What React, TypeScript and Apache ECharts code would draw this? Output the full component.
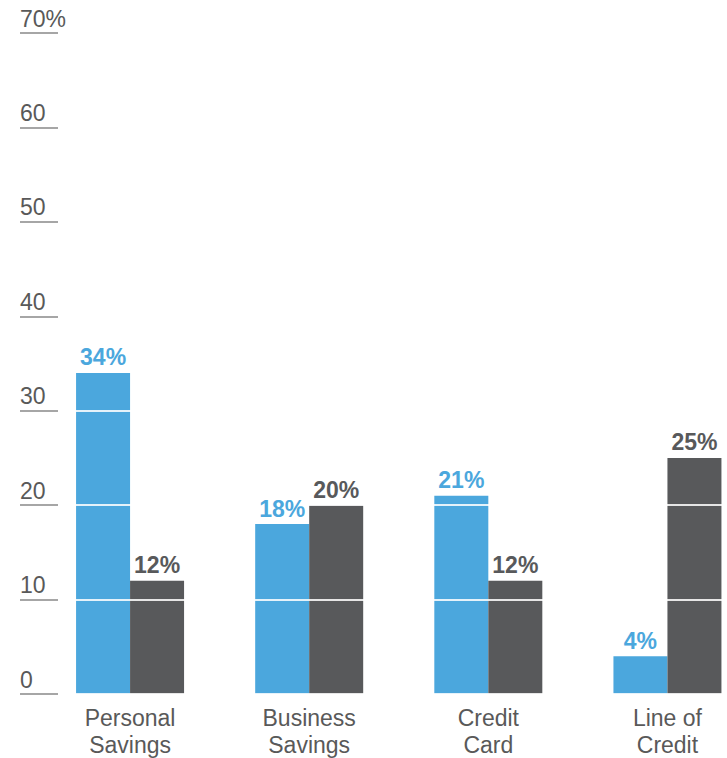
import React, { useEffect, useRef } from "react";
import * as echarts from "echarts";

const categories = ["Personal\nSavings", "Business\nSavings", "Credit\nCard", "Line of\nCredit"];
const seriesA = [34, 18, 21, 4];
const seriesB = [12, 20, 12, 25];
const yTicks = [0, 10, 20, 30, 40, 50, 60, 70];

const BLUE = "#4ba7dd";
const GRAY = "#58595b";
const TEXT = "#595959";
const FONT = "Liberation Sans, Arial, Helvetica, sans-serif";

export default function App() {
  const ref = useRef<HTMLDivElement>(null);
  useEffect(() => {
    if (!ref.current) return;
    const chart = echarts.init(ref.current, undefined, { renderer: "svg" });
    const yMin = yTicks[0];
    const yMax = yTicks[yTicks.length - 1];
    const barSeries = (data: number[], color: string, xIdx: number, labelOnly: boolean) => ({
      type: "bar",
      xAxisIndex: xIdx,
      yAxisIndex: 0,
      data,
      barWidth: 54,
      barGap: "0%",
      z: labelOnly ? 20 : 2,
      silent: labelOnly,
      itemStyle: { color: labelOnly ? "rgba(0,0,0,0)" : color },
      label: {
        show: labelOnly,
        position: "top",
        distance: 4,
        color,
        fontWeight: "bold",
        fontSize: 23,
        fontFamily: FONT,
        formatter: "{c}%",
      },
    });
    chart.setOption({
      animation: false,
      backgroundColor: "#ffffff",
      textStyle: { fontFamily: FONT },
      grid: [
        { left: 40.5, right: 0, top: 33, height: 661, containLabel: false },
        { left: 20, width: 38, top: 33, height: 661, containLabel: false },
      ],
      xAxis: [
        {
          type: "category",
          gridIndex: 0,
          data: categories,
          axisLine: { show: false },
          axisTick: { show: false },
          axisLabel: {
            color: TEXT,
            fontSize: 23,
            lineHeight: 27,
            margin: 10,
            fontFamily: FONT,
          },
        },
        {
          type: "value",
          gridIndex: 1,
          show: false,
        },
        {
          type: "category",
          gridIndex: 0,
          data: categories,
          show: false,
        },
      ],
      yAxis: [
        {
          type: "value",
          gridIndex: 0,
          min: yMin,
          max: yMax,
          interval: 10,
          z: 5,
          axisLine: { show: false },
          axisTick: { show: false },
          axisLabel: { show: false },
          splitLine: { show: true, lineStyle: { color: "#ffffff", opacity: 0.85, width: 2 } },
        },
        {
          type: "value",
          gridIndex: 1,
          min: yMin,
          max: yMax,
          interval: 10,
          z: 10,
          axisLine: { show: false },
          axisTick: { show: false },
          axisLabel: {
            inside: true,
            margin: 0,
            align: "left",
            verticalAlign: "bottom",
            padding: [0, 0, 3, 0],
            color: TEXT,
            fontSize: 23,
            fontFamily: FONT,
            formatter: (v: number) => (v === yMax ? v + "%" : String(v)),
          },
          splitLine: { show: true, lineStyle: { color: "#a6a6a6", width: 2 } },
        },
      ],
      series: [
        barSeries(seriesA, BLUE, 0, false),
        barSeries(seriesB, GRAY, 0, false),
        barSeries(seriesA, BLUE, 2, true),
        barSeries(seriesB, GRAY, 2, true),
      ],
    });
    return () => chart.dispose();
  }, []);
  return (
    <div
      ref={ref}
      style={{ position: "fixed", left: 0, top: 0, width: 757, height: 758, overflow: "hidden" }}
    />
  );
}
